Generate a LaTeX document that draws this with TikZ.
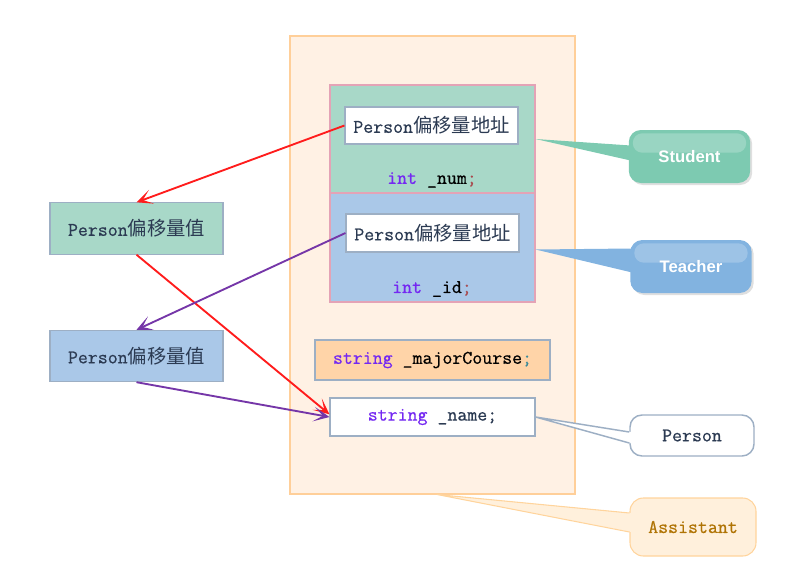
\documentclass[tikz,border=0pt]{standalone}
\usepackage{fontspec}
\newfontfamily\cjk{Noto Sans CJK SC}
\newfontfamily\tagfont{Liberation Sans}
\newfontfamily\codett{Latin Modern Mono}[FakeBold=0.6]
\usetikzlibrary{positioning,calc,arrows.meta,shadows}
\definecolor{OuterFill}{HTML}{FFF1E4}
\definecolor{OuterLine}{HTML}{FFCF99}
\definecolor{StuFill}{HTML}{A8D8C8}
\definecolor{TeaFill}{HTML}{AAC8E8}
\definecolor{BlkLine}{HTML}{E4A3B6}
\definecolor{MajorFill}{HTML}{FFD4A8}
\definecolor{BoxLine}{HTML}{9DAFC4}
\definecolor{TagGreen}{HTML}{7DCAB1}
\definecolor{TagBlue}{HTML}{82B3E0}
\definecolor{AsstFill}{HTML}{FFF0DC}
\definecolor{AsstLine}{HTML}{FFD49C}
\definecolor{AsstText}{HTML}{B07405}
\definecolor{TextDark}{HTML}{2B3A52}
\definecolor{KeyWord}{HTML}{7428F2}
\definecolor{SemiRed}{HTML}{A8484C}
\definecolor{SemiTeal}{HTML}{3A8A9A}
\definecolor{RedArrow}{HTML}{FF1C1C}
\definecolor{PurpleArrow}{HTML}{7536A8}
\newcommand\codefont{\fontsize{14.5}{16}\selectfont\codett}
\newcommand\kw[1]{\textcolor{KeyWord}{#1}}
\newcommand\pofs[1]{Person{\cjk #1}}
\tikzset{
  blk/.style={draw=BlkLine,line width=0.8pt,inner sep=0pt},
  wbox/.style={draw=BoxLine,fill=white,line width=0.8pt,inner sep=0pt,
               font=\codefont,text=TextDark},
  vbox/.style={draw=BoxLine,line width=0.8pt,inner sep=0pt,
               minimum width=129.75pt,minimum height=38.5pt,
               font=\codefont,text=TextDark},
  code/.style={font=\codefont,inner sep=1pt},
  tag/.style={rounded corners=9pt,minimum width=91pt,minimum height=39.75pt,
              font=\tagfont\fontsize{12.5}{14}\selectfont\bfseries,text=white,
              drop shadow={shadow xshift=1.5pt,shadow yshift=-1.5pt,opacity=0.25},
              path picture={\fill[white,opacity=0.22,rounded corners=7pt]
                ([xshift=3pt,yshift=-2.5pt]path picture bounding box.north west)
                rectangle ([xshift=-3pt,yshift=-17pt]path picture bounding box.north east);}},
  arr/.style={-{Stealth[length=12pt,width=11pt,inset=7pt]},line width=1.4pt},
}

\begin{document}
\begin{tikzpicture}[x=0.75pt,y=-0.75pt]
\useasboundingbox (0,0) rectangle (789,578);

\node[draw=OuterLine,fill=OuterFill,line width=0.8pt,minimum width=213.75pt,
      minimum height=343.5pt,inner sep=0pt] (layout) at (432.5,265) {};

% Student part
\node[blk,fill=StuFill,minimum width=153.75pt,minimum height=81pt] (stublk) at (432.5,139) {};
\node[wbox,minimum width=129.75pt,minimum height=27.75pt] (stuaddr) at (431.5,125.5) {\pofs{偏移量地址}};
\node[code] (stunum) at (432,180) {\kw{int} \_num\textcolor{SemiRed}{;}};

% Teacher part
\node[blk,fill=TeaFill,minimum width=153.75pt,minimum height=81.75pt] (teablk) at (432.5,247.5) {};
\node[wbox,minimum width=129.75pt,minimum height=28.5pt] (teaaddr) at (432.5,233) {\pofs{偏移量地址}};
\node[code] (teaid) at (432,289) {\kw{int} \_id\textcolor{SemiRed}{;}};

\node[draw=BoxLine,fill=MajorFill,line width=0.8pt,minimum width=176.25pt,
      minimum height=30pt,inner sep=0pt,font=\codefont] (major) at (432.5,360)
      {\kw{string} \_majorCourse\textcolor{SemiTeal}{;}};
\node[wbox,minimum width=153.75pt,minimum height=28.5pt] (name) at (432.5,417)
      {\kw{string} \_name;};

\node[vbox,fill=StuFill] (stuval) at (136.5,228.5) {\pofs{偏移量值}};
\node[vbox,fill=TeaFill] (teaval) at (136.5,356) {\pofs{偏移量值}};

% callouts
\node[tag,fill=TagGreen] (student) at (689.5,156.5) {Student};
\node[tag,fill=TagBlue] (teacher) at (691,266.5) {Teacher};
\node[draw=BoxLine,fill=white,line width=1.1pt,rounded corners=9pt,
      minimum width=93pt,minimum height=30.75pt,font=\codefont,text=TextDark]
      (person) at (692,435.5) {Person};
\node[draw=AsstLine,fill=AsstFill,line width=0.8pt,rounded corners=10pt,
      minimum width=94.5pt,minimum height=43.5pt,font=\codefont,text=AsstText]
      (assistant) at (693,527) {Assistant};

\coordinate (stutip) at (stublk.east);
\coordinate (teatip) at ([yshift=-1.5pt]teablk.east);
\coordinate (asttip) at ([xshift=3.5pt]layout.south);
\fill[TagGreen] (stutip) -- ($(student.west)+(2,-11)$) -- ($(student.west)+(2,4)$) -- cycle;
\fill[TagBlue] (teatip) -- ($(teacher.west)+(2,-18)$) -- ($(teacher.west)+(2,6)$) -- cycle;
\fill[white] (name.east) -- ($(person.west)+(2,-3.5)$) -- ($(person.west)+(2,7.5)$) -- cycle;
\draw[BoxLine,line width=1.1pt] ($(person.west)+(0,-3.5)$) -- (name.east) -- ($(person.west)+(0,7.5)$);
\fill[AsstFill] (asttip) -- ($(assistant.west)+(2,-14)$) -- ($(assistant.west)+(2,5)$) -- cycle;
\draw[AsstLine,line width=0.8pt] ($(assistant.west)+(0,-14)$) -- (asttip) -- ($(assistant.west)+(0,5)$);

% offset arrows
\draw[arr,RedArrow] (stuaddr.west) -- (stuval.north);
\draw[arr,RedArrow] (stuval.south) -- ([yshift=2pt]name.west);
\draw[arr,PurpleArrow] (teaaddr.west) -- (teaval.north);
\draw[arr,PurpleArrow] (teaval.south) -- (name.west);
\end{tikzpicture}
\end{document}
